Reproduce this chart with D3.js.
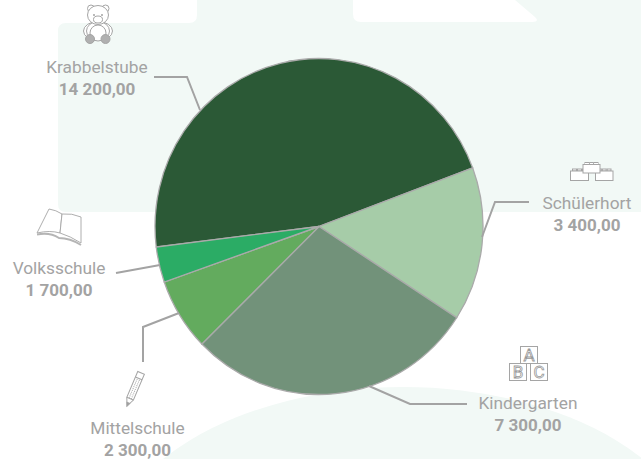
<!DOCTYPE html>
<html><head><meta charset="utf-8">
<script src="https://cdn.jsdelivr.net/npm/d3@7/dist/d3.min.js"></script>
<style>html,body{margin:0;padding:0;background:#fff}svg{display:block}text{font-family:Roboto,sans-serif}</style>
</head><body><svg id="c" width="641" height="459"></svg>
<script>
const categories=["Krabbelstube","Schülerhort","Kindergarten","Mittelschule","Volksschule"];
const values=[14200,3400,7300,2300,1700];
// the drawn slices do not follow the printed values: sweep, in degrees
const sliceSweeps=[166.6,53.3,102.7,25.1,12.3];
const colors=["#2b5936","#a6cca8","#72927a","#63ab5e","#2bac65"];
const startDeg=-97;

const grey="#a3a3a3",pale="#f2f9f6";
const svg=d3.select("#c");
const fmt=v=>d3.format(",.2f")(v).replace(/,/g," ").replace(".",",");

// background shapes
const bg=svg.append("g").attr("fill",pale);
bg.append("path").attr("d","M66,23H189Q197,23 197,15V0H353V14Q353,22 361,22H532Q540,22 535,17L515,0H641V212H66Q58,212 58,204V31Q58,23 66,23Z");
bg.append("ellipse").attr("cx",403).attr("cy",567).attr("rx",300).attr("ry",180);

// pie
const cx=319,cy=226.5,rx=164,ry=168;
const rad=d=>d*Math.PI/180;
const pie=d3.pie().sort(null).startAngle(rad(startDeg)).endAngle(rad(startDeg+360)).value((d,i)=>sliceSweeps[i]);
const arcs=pie(categories);
const arc=d3.arc().innerRadius(0).outerRadius(rx);
svg.append("g").attr("transform",`translate(${cx},${cy}) scale(1,${ry/rx})`)
 .selectAll("path").data(arcs).join("path")
 .attr("d",arc).attr("fill",(d,i)=>colors[i]).attr("stroke","#aaaaaa").attr("stroke-width",1.3);

// callouts
const leaders=[
 [[154,77],[187,77],[200,110]],
 [[529,202],[495,202],[482,237]],
 [[467,404],[410,404],[369,386]],
 [[143,362],[143,327],[179,313]],
 [[116,273],[160,265]]];
const labelPos=[[97,73],[587,209],[528,409],[137.5,434],[59,274]];
svg.append("g").selectAll("path").data(leaders).join("path")
 .attr("d",d3.line()).attr("fill","none").attr("stroke",grey).attr("stroke-width",2);
const lab=svg.append("g").attr("text-anchor","middle").attr("fill",grey);
categories.forEach((c,i)=>{
 lab.append("text").attr("x",labelPos[i][0]).attr("y",labelPos[i][1]).attr("font-size",17.3).text(c);
 lab.append("text").attr("x",labelPos[i][0]).attr("y",labelPos[i][1]+22).attr("font-size",17).attr("font-weight",700).text(fmt(values[i]));
});

// icons
const ic=svg.append("g").attr("fill","none").attr("stroke","#a5a5a5").attr("stroke-width",1);
// bear
const b=ic.append("g");
b.append("ellipse").attr("cx",98).attr("cy",31).attr("rx",14.5).attr("ry",9.5).attr("fill","#fff");
b.append("ellipse").attr("cx",98).attr("cy",31).attr("rx",11.5).attr("ry",9.5).attr("fill","#fff");
b.append("ellipse").attr("cx",98).attr("cy",33).attr("rx",8).attr("ry",8).attr("fill","#fff");
b.append("circle").attr("cx",91).attr("cy",8.5).attr("r",3.5).attr("fill","#fff");
b.append("circle").attr("cx",105.5).attr("cy",8.5).attr("r",3.5).attr("fill","#fff");
b.append("ellipse").attr("cx",98).attr("cy",15).attr("rx",10.5).attr("ry",9.5).attr("fill","#fff");
b.append("ellipse").attr("cx",98).attr("cy",19.5).attr("rx",4.5).attr("ry",3.5).attr("fill","#fff");
b.append("circle").attr("cx",90).attr("cy",39).attr("r",4.5).attr("fill","#b0b0b0");
b.append("circle").attr("cx",105.5).attr("cy",39).attr("r",4.5).attr("fill","#b0b0b0");
ic.append("circle").attr("cx",94).attr("cy",15).attr("r",.6).attr("fill","#999");
ic.append("circle").attr("cx",102).attr("cy",15).attr("r",.6).attr("fill","#999");
// book
ic.append("path").attr("d","M37,233L49,209Q56,210 62,214L60,233Q50,230 37,233Z").attr("fill","#fff").attr("stroke-width",.9);
ic.append("path").attr("d","M62,214Q72,213 81,217V243Q70,236 60,233Z").attr("fill","#fff").attr("stroke-width",.9);
ic.append("path").attr("d","M37,234.5Q50,232 59,238Q70,238 81,245").attr("stroke-width",2).attr("stroke","#b5b5b5");
// pencil
const p=ic.append("g").attr("transform","translate(127,406) rotate(23)");
p.append("path").attr("d","M0,0L-3.6,-8V-36H3.6V-8Z").attr("fill","#fff");
p.append("path").attr("d","M-1.2,-8V-30M1.2,-8V-30").attr("stroke-dasharray","1 1");
p.append("path").attr("d","M-3.6,-30H3.6M-3.6,-8H3.6");
p.append("path").attr("d","M0,0L-1.5,-3.4H1.5Z").attr("fill","#999");
// lego bricks
const brick=(x,y,w,h)=>{
 [0,1,2].forEach(k=>ic.append("rect").attr("x",x+2+k*(w-3)/3).attr("y",y-2).attr("width",(w-3)/3-1).attr("height",2).attr("fill","#fff"));
 ic.append("rect").attr("x",x).attr("y",y).attr("width",w).attr("height",h).attr("fill","#fff");
};
brick(570.5,171,18,9.5);brick(595.5,171,17.5,9.5);brick(583,164.5,17,8.5);
// blocks
[["A",520,346],["B",509,363],["C",530,363]].forEach(([t,x,y])=>{
 ic.append("rect").attr("x",x+.5).attr("y",y+.5).attr("width",17).attr("height",17);
 ic.append("text").attr("x",x+9).attr("y",y+15).attr("text-anchor","middle").attr("font-size",17).attr("stroke-width",.8).attr("stroke","#999").attr("fill","#fff").text(t);
});
</script></body></html>
